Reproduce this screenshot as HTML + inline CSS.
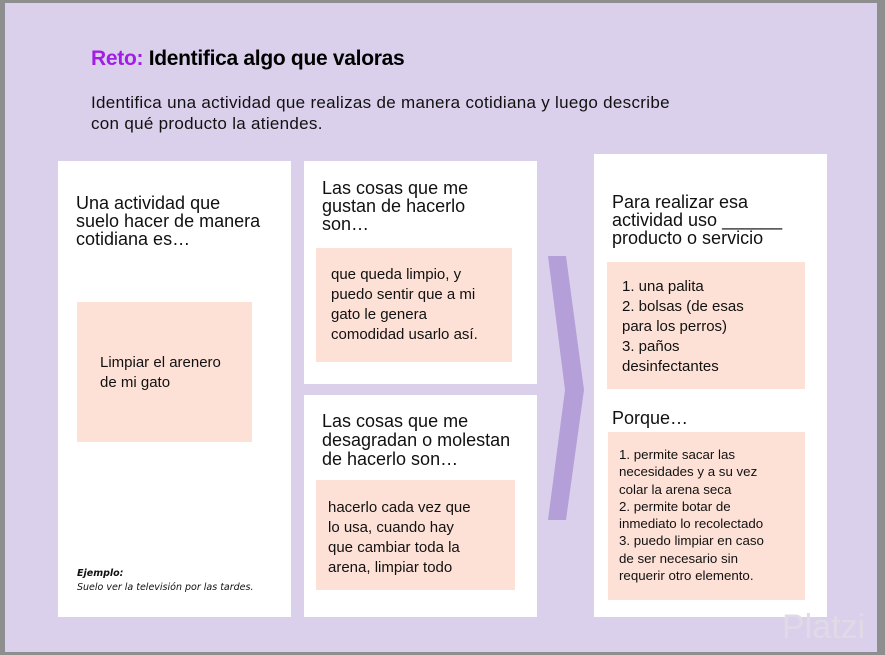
<!DOCTYPE html>
<html><head><meta charset="utf-8"><style>
body{margin:0;width:885px;height:655px;background:#8e8e8e;position:relative;overflow:hidden;font-family:"Liberation Sans",sans-serif;}
.bg{position:absolute;left:5px;top:3px;width:872px;height:649px;background:#dad0eb;}
.w{position:absolute;background:#fff;}
.p{position:absolute;background:#fde1d6;color:#111;font-size:15px;line-height:20px;}
.h{position:absolute;font-size:18px;line-height:18px;color:#111;}
</style></head><body>
<div class="bg"></div>
<div style="position:absolute;left:91px;top:47px;font-size:21px;font-weight:bold;color:#000;letter-spacing:-0.3px"><span style="color:#a21de6">Reto:</span> Identifica algo que valoras</div>
<div style="position:absolute;left:91px;top:92px;font-size:17px;line-height:21px;color:#111;letter-spacing:0.3px">Identifica una actividad que realizas de manera cotidiana y luego describe<br>con qué producto la atiendes.</div>

<div class="w" style="left:58px;top:161px;width:233px;height:456px"></div>
<div class="h" style="left:76px;top:194px">Una actividad que<br>suelo hacer de manera<br>cotidiana es…</div>
<div class="p" style="left:77px;top:302px;width:175px;height:140px"><div style="position:absolute;left:23px;top:51px">Limpiar el arenero<br>de mi gato</div></div>
<div style="position:absolute;left:77px;top:567px;font-family:'DejaVu Sans',sans-serif;font-style:italic;font-size:9.5px;line-height:14px;color:#111"><b>Ejemplo:</b><br>Suelo ver la televisión por las tardes.</div>

<div class="w" style="left:304px;top:161px;width:233px;height:223px"></div>
<div class="h" style="left:322px;top:179px">Las cosas que me<br>gustan de hacerlo<br>son…</div>
<div class="p" style="left:316px;top:248px;width:196px;height:114px"><div style="position:absolute;left:15px;top:17px">que queda limpio, y<br>puedo sentir que a mi<br>gato le genera<br>comodidad usarlo así.</div></div>

<div class="w" style="left:304px;top:395px;width:233px;height:222px"></div>
<div class="h" style="left:322px;top:412px;line-height:19px">Las cosas que me<br>desagradan o molestan<br>de hacerlo son…</div>
<div class="p" style="left:316px;top:480px;width:199px;height:110px"><div style="position:absolute;left:12px;top:18px">hacerlo cada vez que<br>lo usa, cuando hay<br>que cambiar toda la<br>arena, limpiar todo</div></div>

<svg style="position:absolute;left:0;top:0" width="885" height="655"><polygon points="548,256 566,256 584,390 566,520 548,520 565,390" fill="#b49fd8"/></svg>

<div class="w" style="left:594px;top:154px;width:233px;height:463px"></div>
<div class="h" style="left:612px;top:193px">Para realizar esa<br>actividad uso ______<br>producto o servicio</div>
<div class="p" style="left:607px;top:262px;width:198px;height:127px"><div style="position:absolute;left:15px;top:15px">1. una palita<br>2. bolsas (de esas<br>para los perros)<br>3. paños<br>desinfectantes</div></div>
<div class="h" style="left:612px;top:409px">Porque…</div>
<div class="p" style="left:608px;top:432px;width:197px;height:168px;font-size:13.3px;line-height:17.3px"><div style="position:absolute;left:11px;top:14px">1. permite sacar las<br>necesidades y a su vez<br>colar la arena seca<br>2. permite botar de<br>inmediato lo recolectado<br>3. puedo limpiar en caso<br>de ser necesario sin<br>requerir otro elemento.</div></div>
<div style="position:absolute;left:782px;top:608px;font-size:34px;color:#e0dae6">Platzi</div>
</body></html>
